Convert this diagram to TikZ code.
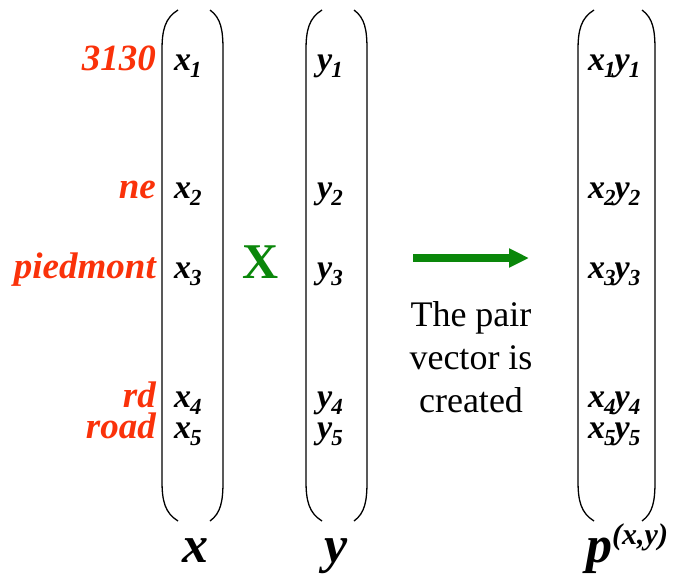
\documentclass[tikz,border=0pt]{standalone}
\usepackage{fontspec}
\setmainfont{Liberation Serif}
\usetikzlibrary{arrows.meta}
\definecolor{lblred}{RGB}{250,50,10}
\definecolor{xgreen}{RGB}{10,135,10}
\newcommand{\ent}[2]{#1\kern-1pt\raisebox{-7pt}{\fontsize{23}{23}\selectfont #2}}
\newcommand{\pent}[2]{x\kern-1pt\raisebox{-7pt}{\fontsize{23}{23}\selectfont #1}\kern-1pt y\kern-1pt\raisebox{-7pt}{\fontsize{23}{23}\selectfont #2}}
\tikzset{
  entry/.style={inner sep=0pt, anchor=base west, font=\fontsize{34}{34}\selectfont\bfseries\itshape},
  lbl/.style={inner sep=0pt, anchor=base east, text=lblred, font=\fontsize{37}{37}\selectfont\bfseries\itshape},
  vname/.style={inner sep=0pt, anchor=base, font=\fontsize{52}{52}\selectfont\bfseries\itshape},
  paren/.style={line width=1.3pt, black},
  note/.style={inner sep=0pt, align=center, font=\fontsize{36}{43}\selectfont}
}
\begin{document}
\begin{tikzpicture}[x=1pt,y=-1pt]
\useasboundingbox (0,0) rectangle (684,574);
% parentheses
\newcommand{\pairparen}[4]{% left x, right x, top y, bottom y
  \draw[paren] (#1+16,#3) .. controls (#1+3,#3+8) and (#1,#3+20) .. (#1,#3+40) -- (#1,#4-40) .. controls (#1,#4-20) and (#1+3,#4-8) .. (#1+16,#4);
  \draw[paren] (#2-13,#3) .. controls (#2-2,#3+8) and (#2,#3+20) .. (#2,#3+40) -- (#2,#4-40) .. controls (#2,#4-20) and (#2-2,#4-8) .. (#2-13,#4);
}
\pairparen{162}{223}{10}{521}
\pairparen{306}{367}{10}{521}
\pairparen{578}{655}{10}{521}
% labels
\node[lbl] (l1) at (156,70) {3130};
\node[lbl] (l2) at (156,198) {ne};
\node[lbl] (l3) at (156,278) {piedmont};
\node[lbl] (l4) at (156,407) {rd};
\node[lbl] (l5) at (156,438) {road};
% x entries
\node[entry] (x1) at (174,70) {\ent{x}{1}};
\node[entry] (x2) at (174,198) {\ent{x}{2}};
\node[entry] (x3) at (174,278) {\ent{x}{3}};
\node[entry] (x4) at (174,407) {\ent{x}{4}};
\node[entry] (x5) at (174,438) {\ent{x}{5}};
% y entries
\node[entry] (y1) at (317,70) {\ent{y}{1}};
\node[entry] (y2) at (317,198) {\ent{y}{2}};
\node[entry] (y3) at (317,278) {\ent{y}{3}};
\node[entry] (y4) at (317,407) {\ent{y}{4}};
\node[entry] (y5) at (317,438) {\ent{y}{5}};
% p entries
\node[entry] (p1) at (588,70) {\pent{1}{1}};
\node[entry] (p2) at (588,198) {\pent{2}{2}};
\node[entry] (p3) at (588,278) {\pent{3}{3}};
\node[entry] (p4) at (588,407) {\pent{4}{4}};
\node[entry] (p5) at (588,438) {\pent{5}{5}};
% operator
\node[inner sep=0pt, anchor=base, text=xgreen, font=\fontsize{50}{50}\selectfont\bfseries] (times) at (261,278) {X};
% arrow
\coordinate (as) at (413,258);
\coordinate (ae) at (529,258);
\draw[xgreen, line width=8pt, -{Triangle[length=20pt,width=18pt]}] (as) -- (ae);
\node[note] (txt) at (471,357) {The pair\\vector is\\created};
% vector names
\node[vname] (nx) at (195,562) {x};
\node[vname] (ny) at (336,562) {y};
\node[inner sep=0pt, anchor=base west, font=\fontsize{52}{52}\selectfont\bfseries\itshape] (np) at (586,562) {p\raisebox{18pt}{\fontsize{30}{30}\selectfont(x,y)}};
\end{tikzpicture}
\end{document}
